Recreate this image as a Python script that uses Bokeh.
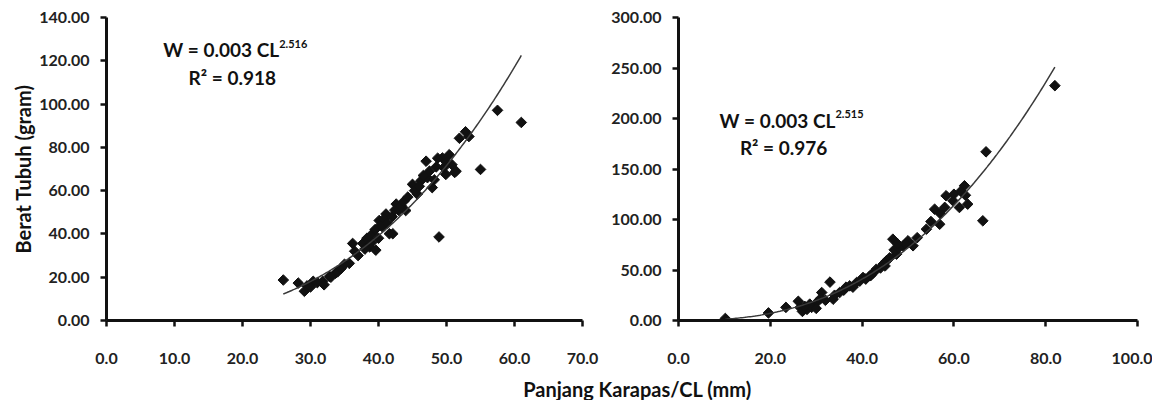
import numpy as np
from bokeh.plotting import figure
from bokeh.models import Range1d, Label, Title, PrintfTickFormatter, FixedTicker
from bokeh.layouts import row, column
from bokeh.embed import file_html
from bokeh.resources import INLINE

# ---------------- data ----------------
left_cl = [26.0, 28.2, 29.1, 30.4, 31.8, 32.8, 33.7, 35.7, 36.2, 37.7, 38.7, 39.1, 39.6,
           40.1, 40.6, 41.1, 41.6, 42.1, 42.6, 43.0, 44.0, 45.0, 45.7, 46.2, 47.0, 47.2,
           47.9, 48.9, 49.4, 49.9, 50.4, 51.4, 51.9, 52.8, 55.0, 57.5, 61.0,
           48.7, 49.6, 51.2, 29.5, 30.0, 31.0, 32.0, 33.0, 34.0, 34.5, 35.0, 36.5, 37.0,
           38.0, 38.3, 39.0, 39.5, 40.0, 40.3, 40.8, 41.3, 42.0, 42.4, 43.3, 43.7, 44.3,
           45.3, 46.0, 46.6, 47.5, 48.2, 48.5, 50.0, 50.8, 53.3]
left_w = [18.7, 17.3, 13.5, 18.1, 18.1, 20.4, 21.9, 26.4, 35.6, 35.6, 34.0, 40.1, 32.5,
          46.2, 43.2, 49.2, 40.1, 40.1, 53.8, 50.8, 50.8, 62.9, 58.4, 64.4, 73.6, 66.0,
          61.4, 38.6, 75.1, 67.5, 76.6, 69.0, 84.2, 87.2, 69.8, 97.1, 91.5,
          75.0, 70.7, 68.4, 16.0, 15.5, 17.5, 16.5, 20.0, 22.5, 24.0, 26.0, 32.0, 30.0,
          33.0, 38.0, 36.0, 42.0, 38.0, 44.0, 47.0, 45.0, 48.0, 51.0, 53.0, 55.0, 57.0,
          60.0, 62.0, 67.0, 69.0, 65.0, 71.0, 73.0, 72.0, 85.0]

right_cl = [10.2, 19.6, 23.4, 26.1, 26.5, 28.6, 30.1, 31.2, 33.0, 33.7, 35.1, 37.3, 38.8,
            40.2, 41.7, 43.1, 44.6, 45.3, 46.7, 47.5, 48.9, 50.0, 51.1, 54.0, 55.8, 56.9,
            58.3, 59.8, 61.2, 62.3, 63.0, 66.3, 67.0, 82.0,
            27.0, 28.0, 29.0, 30.0, 32.0, 34.0, 36.0, 38.0, 39.5, 40.8, 42.4, 44.0, 46.0,
            47.0, 48.0, 49.5, 52.0, 55.0, 57.0, 58.0, 60.0, 61.5, 62.5, 27.5, 31.0, 36.5,
            42.0, 45.0, 47.7]
right_w = [2.0, 7.5, 13.0, 19.0, 12.9, 16.2, 17.8, 27.7, 38.0, 21.1, 27.7, 34.3, 37.6,
           42.6, 44.3, 50.8, 55.8, 59.1, 80.5, 65.7, 74.0, 78.9, 74.0, 90.4, 110.2, 95.3,
           123.5, 118.5, 111.9, 133.4, 115.2, 98.7, 167.0, 232.5,
           9.0, 11.0, 13.0, 12.0, 20.0, 25.0, 30.0, 33.0, 39.0, 41.0, 47.0, 52.0, 62.0,
           70.0, 72.0, 76.0, 82.0, 98.0, 106.0, 112.0, 125.0, 128.0, 124.0, 14.0, 22.0, 33.0,
           45.0, 54.0, 76.0]

left_xticks = [0, 10, 20, 30, 40, 50, 60, 70]
left_yticks = [0, 20, 40, 60, 80, 100, 120, 140]
right_xticks = [0, 20, 40, 60, 80, 100]
right_yticks = [0, 50, 100, 150, 200, 250, 300]

left_eq_main, left_eq_exp, left_r2 = "W = 0.003 CL", "2.516", "R\u00b2 = 0.918"
right_eq_main, right_eq_exp, right_r2 = "W = 0.003 CL", "2.515", "R\u00b2 = 0.976"
x_title = "Panjang Karapas/CL (mm)"
y_title = "Berat Tubuh (gram)"

FONT = "Lato"
INK = "#111111"
PANEL_H = 374
BOTTOM = 54


def power_fit(x, y):
    x = np.asarray(x, float)
    y = np.asarray(y, float)
    b, lna = np.polyfit(np.log(x), np.log(y), 1)
    xs = np.linspace(x.min(), x.max(), 200)
    return xs, np.exp(lna) * xs ** b


def style(p, xt, yt, xfmt, yfmt):
    p.xaxis.ticker = FixedTicker(ticks=xt)
    p.yaxis.ticker = FixedTicker(ticks=yt)
    p.xaxis.formatter = PrintfTickFormatter(format=xfmt)
    p.yaxis.formatter = PrintfTickFormatter(format=yfmt)
    for ax in (p.xaxis[0], p.yaxis[0]):
        ax.axis_line_width = 3
        ax.axis_line_color = INK
        ax.major_tick_line_width = 2.5
        ax.major_tick_line_color = INK
        ax.major_tick_out = 6
        ax.major_tick_in = 0
        ax.minor_tick_line_color = None
        ax.major_label_text_font = FONT
        ax.major_label_text_font_style = "bold"
        ax.major_label_text_font_size = "16px"
        ax.major_label_text_color = "#222222"
    p.xaxis.major_label_standoff = 26
    p.yaxis.major_label_standoff = 11
    p.grid.visible = False
    p.outline_line_color = None
    p.background_fill_color = "white"
    p.border_fill_color = "white"


def panel(cl, w, xmax, ymax, width, mbl, mbr, mbt):
    p = figure(width=width, height=PANEL_H, x_range=Range1d(0, xmax), y_range=Range1d(0, ymax),
               min_border_left=mbl, min_border_right=mbr, min_border_top=mbt,
               min_border_bottom=BOTTOM, output_backend="svg", toolbar_location=None)
    p.scatter(cl, w, marker="square", size=7.5, angle=np.pi / 4, color=INK)
    xs, ys = power_fit(cl, w)
    p.line(xs, ys, line_color="#3a3a3a", line_width=1.5)
    return p


def eq_labels(p, xj, ym, yexp, xr, yr, main, exp, r2):
    common = dict(text_font=FONT, text_font_style="bold", text_color=INK, text_baseline="middle")
    p.add_layout(Label(x=xj, y=ym, text=main, text_align="right", text_font_size="19px", **common))
    p.add_layout(Label(x=xj, y=yexp, text=exp, text_align="left", text_font_size="11px", **common))
    p.add_layout(Label(x=xr, y=yr, text=r2, text_align="center", text_font_size="19px", **common))


f1 = panel(left_cl, left_w, 70, 140, 604, 106, 22, 13)
style(f1, left_xticks, left_yticks, "%.1f", "%.2f")
eq_labels(f1, 25.4, 125.4, 127.8, 18.5, 112.2, left_eq_main, left_eq_exp, left_r2)
f1.add_layout(Title(text=y_title, align="center", offset=28, text_font=FONT,
                    text_font_style="bold", text_font_size="20px", text_color=INK,
                    standoff=4), "left")

f2 = panel(right_cl, right_w, 100, 300, 548, 74, 15, 17)
style(f2, right_xticks, right_yticks, "%.1f", "%.2f")
eq_labels(f2, 34.2, 198.0, 204.0, 22.9, 171.3, right_eq_main, right_eq_exp, right_r2)

TH = 408 - 8 - PANEL_H
f3 = figure(width=1152, height=TH, x_range=Range1d(0, 1152), y_range=Range1d(0, TH),
            min_border=0, x_axis_type=None, y_axis_type=None,
            output_backend="svg", toolbar_location=None)
f3.grid.visible = False
f3.outline_line_color = None
f3.add_layout(Label(x=637, y=12, text=x_title, text_align="center", text_baseline="middle",
                    text_font=FONT, text_font_style="bold", text_font_size="20px",
                    text_color=INK))

layout = column(row(f1, f2), f3)
open("out.html", "w").write(file_html(layout, INLINE))
